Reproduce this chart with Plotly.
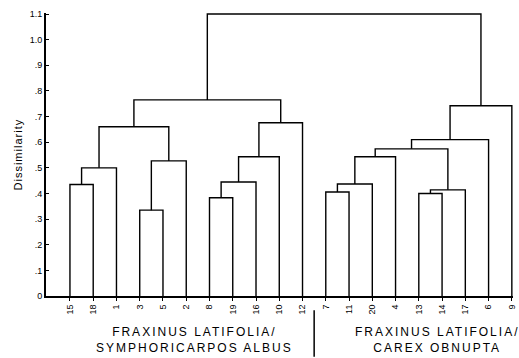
import plotly.graph_objects as go

# ---- data ----
leaf_labels = ["15", "18", "1", "3", "5", "2", "8", "19", "16", "10", "12",
               "7", "11", "20", "4", "13", "14", "17", "6", "9"]
# merges (scipy-like ids: 0..19 leaves, 20+ clusters in order)
merge_left = [0, 20, 3, 22, 21, 6, 25, 26, 27, 24, 11, 30, 31, 15, 33, 32, 35, 36, 29]
merge_right = [1, 2, 4, 5, 23, 7, 8, 9, 10, 28, 12, 13, 14, 16, 17, 34, 18, 19, 37]
merge_height = [0.435, 0.50, 0.335, 0.527, 0.66, 0.383, 0.445, 0.543, 0.676, 0.765,
                0.406, 0.437, 0.543, 0.40, 0.414, 0.574, 0.61, 0.742, 1.10]
y_tick_vals = [0, 0.1, 0.2, 0.3, 0.4, 0.5, 0.6, 0.7, 0.8, 0.9, 1.0, 1.1]
y_tick_text = ["0", ".1", ".2", ".3", ".4", ".5", ".6", ".7", ".8", ".9", "1.0", "1.1"]
group_labels = ["FRAXINUS LATIFOLIA/<br>SYMPHORICARPOS ALBUS",
                "FRAXINUS LATIFOLIA/<br>CAREX OBNUPTA"]
y_title = "Dissimilarity"

# ---- build dendrogram segments ----
n = len(leaf_labels)
pos = {i: float(i) for i in range(n)}
hgt = {i: 0.0 for i in range(n)}
xs, ys = [], []
for k, (a, b, h) in enumerate(zip(merge_left, merge_right, merge_height)):
    cid = n + k
    xa, xb = pos[a], pos[b]
    xs += [xa, xa, xb, xb, None]
    ys += [hgt[a], h, h, hgt[b], None]
    pos[cid] = (xa + xb) / 2
    hgt[cid] = h

fig = go.Figure()
fig.add_trace(go.Scatter(x=xs, y=ys, mode="lines",
                         line=dict(color="black", width=1.4),
                         hoverinfo="skip", showlegend=False))

sep_x = (leaf_labels.index("12") + leaf_labels.index("7")) / 2


def spaced(t, px):
    lines = t.split("<br>")
    return "<br>".join('<span style="letter-spacing:%spx">%s</span>' % (px, s) for s in lines)


fig.update_layout(
    width=519, height=358,
    margin=dict(l=46, r=2, t=13, b=62),
    paper_bgcolor="white", plot_bgcolor="white",
    font=dict(family="Liberation Sans, Arial, sans-serif", color="black"),
    xaxis=dict(range=[-1.03, 19.05], tickmode="array",
               tickvals=list(range(n)), ticktext=leaf_labels,
               tickangle=-90, tickfont=dict(size=9),
               ticklabeloverflow="allow",
               ticks="outside", ticklen=3, tickwidth=1, tickcolor="black",
               showline=True, linecolor="black", linewidth=2,
               showgrid=False, zeroline=False, fixedrange=True),
    yaxis=dict(range=[0, 1.104], tickmode="array",
               tickvals=y_tick_vals, ticktext=y_tick_text,
               tickfont=dict(size=9),
               ticks="inside", ticklen=3, tickwidth=1, tickcolor="black",
               showline=True, linecolor="black", linewidth=2,
               showgrid=False, zeroline=False, fixedrange=True),
    annotations=[
        dict(text=spaced(y_title, 1), textangle=-90, xref="paper", yref="paper",
             x=-0.06, y=0.5, xanchor="center", yanchor="middle",
             showarrow=False, font=dict(size=11)),
        dict(text=spaced(group_labels[0], 2), xref="x", yref="paper",
             x=(leaf_labels.index("2") + leaf_labels.index("8")) / 2 - 0.15,
             y=-0.095, xanchor="center", yanchor="top", showarrow=False,
             font=dict(size=12)),
        dict(text=spaced(group_labels[1], 2), xref="x", yref="paper",
             x=(leaf_labels.index("13") + leaf_labels.index("14")) / 2 + 0.3,
             y=-0.095, xanchor="center", yanchor="top", showarrow=False,
             font=dict(size=12)),
    ],
    shapes=[dict(type="line", xref="x", yref="paper", x0=sep_x, x1=sep_x,
                 y0=-0.05, y1=-0.215, line=dict(color="black", width=1.5))],
)

fig.write_html("out.html", config={"displayModeBar": False},
               post_script="document.body.style.margin='0';")
